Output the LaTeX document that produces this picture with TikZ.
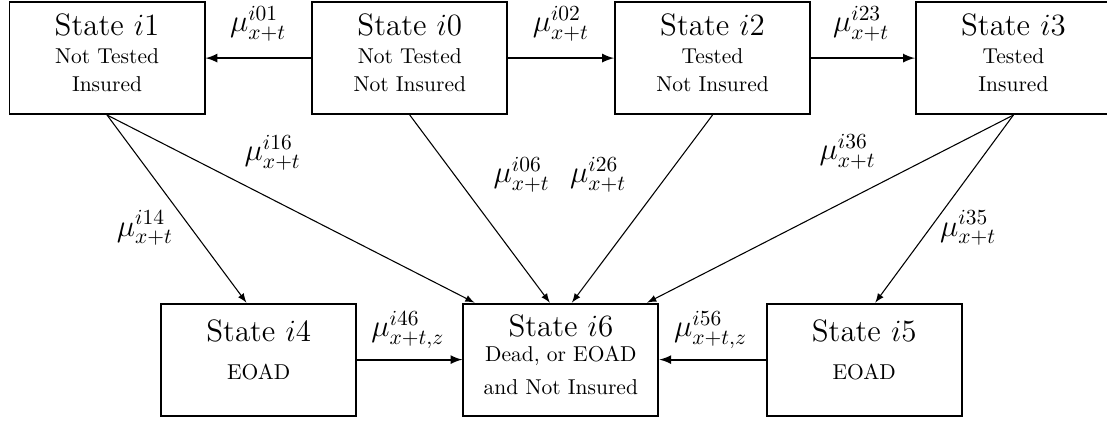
\documentclass[tikz,border=0pt]{standalone}
\usepackage{amsmath}
\usepackage{amssymb}
\usepackage{tikz}
\usetikzlibrary{arrows,shapes}
\usetikzlibrary{calc}

\begin{document}
\begin{tikzpicture}[
	state/.style={draw, line width=0.9pt, minimum width=3.19cm, minimum height=1.83cm, inner sep=0pt, align=center, text depth=5pt},
	rate/.style={font=\Large},
	flow/.style={line width=0.9pt,-latex},
	jump/.style={line width=0.5pt,-latex}]

	\useasboundingbox (0,0) rectangle (18.10,6.93);

	%top row
	\node[state] (i1) at (1.75,5.98) {{\Large State $i1$}\\[1pt] Not Tested\\[1pt] Insured};
	\node[state] (i0) at (6.70,5.98) {{\Large State $i0$}\\[1pt] Not Tested\\[1pt] Not Insured};
	\node[state] (i2) at (11.65,5.98) {{\Large State $i2$}\\[1pt] Tested\\[1pt] Not Insured};
	\node[state] (i3) at (16.57,5.98) {{\Large State $i3$}\\[1pt] Tested\\[1pt] Insured};

	%bottom row
	\node[state,text depth=9.3pt] (i4) at (4.23,1.05) {{\Large State $i4$}\\[6pt] EOAD};
	\node[state] (i6) at (9.17,1.05) {{\Large State $i6$}\\ Dead, or EOAD\\[3pt] and Not Insured};
	\node[state,text depth=9.3pt] (i5) at (14.13,1.05) {{\Large State $i5$}\\[6pt] EOAD};

	\draw[flow] (i0) -- (i1);
	\draw[flow] (i0) -- (i2);
	\draw[flow] (i2) -- (i3);
	\draw[flow] (i4) -- (i6);
	\draw[flow] (i5) -- (i6);

	\draw[jump] (i1.south) -- ($(i4.north)+(-0.2,0)$);
	\draw[jump] (i1.south) -- ($(i6.north)+(-1.41,0)$);
	\draw[jump] (i0.south) -- ($(i6.north)+(-0.18,0)$);
	\draw[jump] (i2.south) -- ($(i6.north)+(0.18,0)$);
	\draw[jump] (i3.south) -- ($(i6.north)+(1.41,0)$);
	\draw[jump] (i3.south) -- ($(i5.north)+(0.18,0)$);

	%transition intensities
	\node[rate] (l01) at (4.22,6.54) {$\mu^{i01}_{x+t}$};
	\node[rate] (l02) at (9.17,6.54) {$\mu^{i02}_{x+t}$};
	\node[rate] (l23) at (14.08,6.54) {$\mu^{i23}_{x+t}$};
	\node[rate] (l46) at (6.67,1.54) {$\mu^{i46}_{x+t,z}$};
	\node[rate] (l56) at (11.62,1.54) {$\mu^{i56}_{x+t,z}$};
	\node[rate] (l16) at (4.46,4.43) {$\mu^{i16}_{x+t}$};
	\node[rate] (l14) at (2.37,3.20) {$\mu^{i14}_{x+t}$};
	\node[rate] (l06) at (8.53,4.07) {$\mu^{i06}_{x+t}$};
	\node[rate] (l26) at (9.78,4.07) {$\mu^{i26}_{x+t}$};
	\node[rate] (l36) at (13.86,4.45) {$\mu^{i36}_{x+t}$};
	\node[rate] (l35) at (15.83,3.20) {$\mu^{i35}_{x+t}$};

\end{tikzpicture}
\end{document}
